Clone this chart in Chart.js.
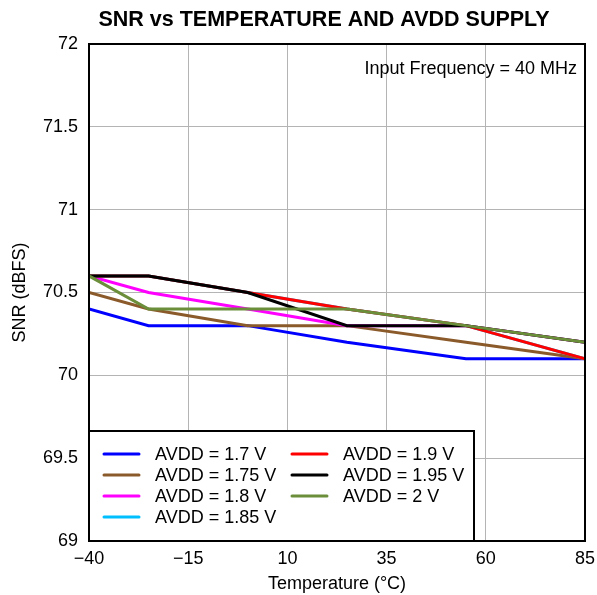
<!DOCTYPE html>
<html>
<head>
<meta charset="utf-8">
<script src="https://cdn.jsdelivr.net/npm/chart.js@4"></script>
<style>
  html, body { margin: 0; padding: 0; background: #fff; }
  #wrap { position: relative; width: 597px; height: 595px; }
</style>
</head>
<body>
<div id="wrap"><canvas id="c"></canvas></div>
<script>
// datos
const TEMPS = [-40, -25, 0, 25, 55, 85];
const X_TICKS = [-40, -15, 10, 35, 60, 85];
const LABELS = ['AVDD = 1.7 V', 'AVDD = 1.75 V', 'AVDD = 1.8 V', 'AVDD = 1.85 V',
    'AVDD = 1.9 V', 'AVDD = 1.95 V', 'AVDD = 2 V'];
const COLORS = ['#0000ff', '#8b5a2b', '#ff00ff', '#00bfff', '#ff0000', '#000000', '#6b8e3a'];

const SNR_170 = [70.4, 70.3, 70.3, 70.2, 70.1, 70.1];
const SNR_175 = [70.5, 70.4, 70.3, 70.3, 70.2, 70.1];
const SNR_180 = [70.6, 70.5, 70.4, 70.3, 70.3, 70.2];
const SNR_185 = [70.6, 70.6, 70.5, 70.4, 70.3, 70.1];
const SNR_190 = [70.6, 70.6, 70.5, 70.4, 70.3, 70.1];
const SNR_195 = [70.6, 70.6, 70.5, 70.3, 70.3, 70.2];
const SNR_200 = [70.6, 70.4, 70.4, 70.4, 70.3, 70.2];
const SERIES = [SNR_170, SNR_175, SNR_180, SNR_185, SNR_190, SNR_195, SNR_200];

const FONT = 'Arial, "Liberation Sans", sans-serif';
const minus = v => String(v).replace('-', '\u2212');

// marco, título, nota y leyenda
const decor = {
    id: 'decor',
    afterDatasetsDraw(chart) {
        const { ctx, chartArea: a } = chart;
        ctx.save();

        // leyenda
        const lx = a.left, ly = 431, lw = 474 - a.left, lh = a.bottom - ly;
        ctx.fillStyle = '#fff';
        ctx.fillRect(lx, ly, lw, lh);
        ctx.strokeStyle = '#000';
        ctx.lineWidth = 2;
        ctx.strokeRect(lx, ly, lw, lh);
        ctx.font = '18px ' + FONT;
        ctx.textBaseline = 'middle';
        ctx.textAlign = 'left';
        LABELS.forEach((t, i) => {
            const col = i < 4 ? 0 : 1;
            const row = i < 4 ? i : i - 4;
            const x0 = col ? 292 : 104;
            const y = 454 + row * 21;
            ctx.strokeStyle = COLORS[i];
            ctx.lineWidth = 3;
            ctx.lineCap = 'round';
            ctx.beginPath();
            ctx.moveTo(x0, y);
            ctx.lineTo(x0 + 35, y);
            ctx.stroke();
            ctx.fillStyle = '#000';
            ctx.fillText(t, x0 + 51, y + 1);
        });

        // marco del área
        ctx.strokeStyle = '#000';
        ctx.lineWidth = 2;
        ctx.lineCap = 'butt';
        ctx.strokeRect(a.left, a.top, a.right - a.left, a.bottom - a.top);

        // nota
        ctx.fillStyle = '#000';
        ctx.font = '18px ' + FONT;
        ctx.textAlign = 'right';
        ctx.fillText('Input Frequency = 40 MHz', 577, 69);

        // título
        ctx.font = 'bold 21.5px ' + FONT;
        ctx.textAlign = 'center';
        ctx.fillText('SNR vs TEMPERATURE AND AVDD SUPPLY', 324, 20);
        ctx.restore();
    }
};

new Chart(document.getElementById('c'), {
    type: 'line',
    data: {
        datasets: SERIES.map((s, i) => ({
            label: LABELS[i],
            data: s.map((v, j) => ({ x: TEMPS[j], y: v })),
            borderColor: COLORS[i],
            backgroundColor: COLORS[i],
            borderWidth: 3,
            pointRadius: 0,
            tension: 0,
            order: SERIES.length - i
        }))
    },
    options: {
        responsive: true,
        maintainAspectRatio: false,
        animation: false,
        layout: { padding: { top: 44, right: 12, left: 0, bottom: 0 } },
        plugins: { legend: { display: false }, tooltip: { enabled: false } },
        scales: {
            x: {
                type: 'linear',
                min: -40, max: 85,
                afterBuildTicks: s => { s.ticks = X_TICKS.map(v => ({ value: v })); },
                afterFit: s => { s.height = 54; s.paddingLeft = 0; s.paddingRight = 0; },
                ticks: { color: '#000', font: { family: FONT, size: 18 }, padding: 7,
                    callback: v => minus(v) },
                grid: { color: '#b4b4b4', lineWidth: 1, drawTicks: false },
                border: { display: false },
                title: { display: true, text: 'Temperature (°C)', color: '#000',
                    font: { family: FONT, size: 18 }, padding: { top: 2, bottom: 0 } }
            },
            y: {
                min: 69, max: 72,
                ticks: { stepSize: 0.5, color: '#000', font: { family: FONT, size: 18 }, padding: 11,
                    callback: v => String(v) },
                afterFit: s => { s.width = 89; s.paddingTop = 0; s.paddingBottom = 0; },
                grid: { color: '#b4b4b4', lineWidth: 1, drawTicks: false },
                border: { display: false },
                title: { display: true, text: 'SNR (dBFS)', color: '#000',
                    font: { family: FONT, size: 18 }, padding: { top: 9, bottom: 4 } }
            }
        }
    },
    plugins: [decor]
});
</script>
</body>
</html>
